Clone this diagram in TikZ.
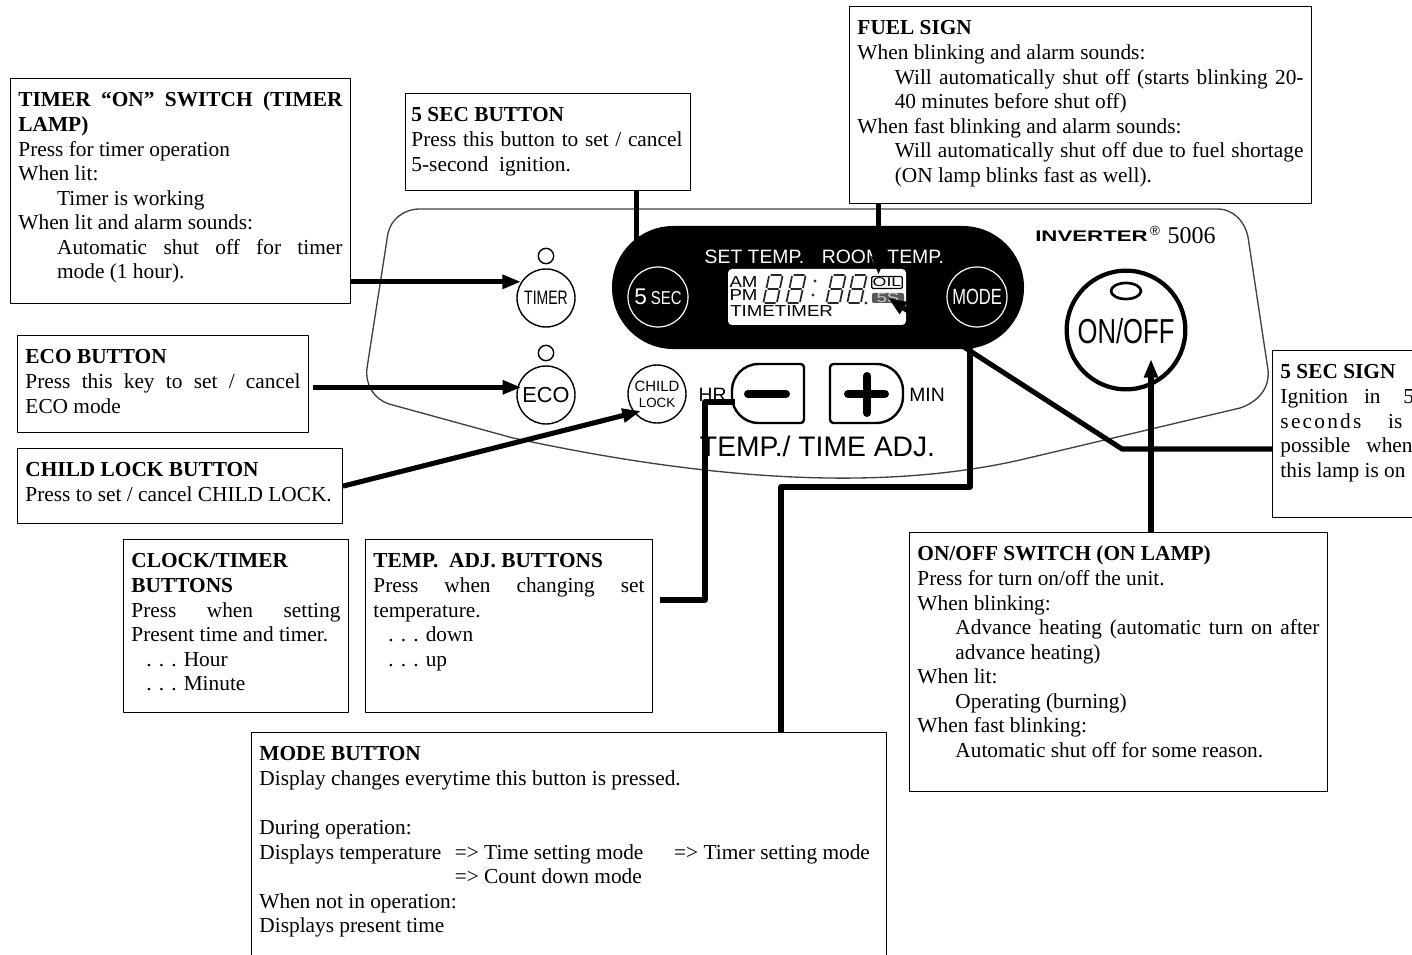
\documentclass[tikz,border=0pt]{standalone}
\usepackage{fontspec}
\usepackage{graphicx}
\setmainfont{Liberation Serif}
\setsansfont{Liberation Sans}
\usetikzlibrary{arrows.meta,calc}
\tolerance=10000
\hbadness=10000
\hfuzz=20pt
\hyphenpenalty=10000
\newcommand{\infohead}[1]{\vspace*{8.5pt}\noindent\strut\textbf{#1}\par}
\newcommand{\infohang}[1]{{\leftskip=29pt\relax #1\par}}
\newcommand{\infodots}[1]{{\leftskip=11.25pt\relax . . . #1\par}}
\begin{document}
\begin{tikzpicture}[x=0.75pt,y=-0.75pt, line join=round, line cap=butt,
	>={Stealth[inset=0pt,length=14pt,width=10pt]},
	infobox/.style={draw=black, line width=0.7pt, anchor=north west, inner xsep=6pt, inner ysep=0pt, font=\fontsize{16}{18.4}\selectfont},
	leader/.style={line width=3.8pt, draw=black},
	btn/.style={circle, draw=black, line width=1.05pt, minimum size=43.5pt, inner sep=0pt, font=\sffamily},
	lamp/.style={circle, draw=black, line width=1.05pt, minimum size=11.5pt, inner sep=0pt},
	darkbtn/.style={circle, draw=white, line width=0.9pt, minimum size=45pt, inner sep=0pt, text=white, font=\sffamily},
	panellabel/.style={inner sep=0pt, font=\sffamily\fontsize{14.5}{16}\selectfont},
	lcdlabel/.style={inner sep=0pt, font=\sffamily\fontsize{14}{14}\selectfont}]
	\clip (0,0) rectangle (1412,955);
	% panel outline
	\draw[line width=1pt, draw=black!75] (420,209)--(1217,209) .. controls (1234,209) and (1245,222) .. (1248,237)
		--(1268,370) .. controls (1270,388) and (1258,402) .. (1240,408)
		--(1020,460) .. controls (900,487) and (740,487) .. (513,438)
		--(389,404) .. controls (374,399) and (365,385) .. (367,368)
		--(388,233) .. controls (391,220) and (403,209) .. (420,209)--cycle;
	% display
	\fill[black,rounded corners=46pt] (612,226) rectangle (1024,349);
	\fill[white,rounded corners=3pt] (728,269) rectangle (906,325);
	\node[panellabel,text=white] (settemp) at (754.5,257) {SET TEMP.};
	\node[panellabel,text=white] (roomtemp) at (883,257) {ROOM TEMP.};
	\node[inner sep=0pt,align=left,font=\sffamily\fontsize{14}{9.8}\selectfont] (ampmsign) at (743.5,288.5) {\scalebox{1}[.85]{AM}\\\scalebox{1}[.85]{PM}};
	\node[lcdlabel,anchor=west] (timesign) at (730,311) {\scalebox{1}[.85]{TIMETIMER}};
	\foreach \x in{763,786,826,847}
	\draw[line width=1.3pt, black!85] (\x+1.5,303)--++(11,0) (\x+4.5,289)--++(11,0) (\x+7.5,275)--++(11,0)
		(\x+.5,302)--++(2.5,-12) (\x+3.5,288)--++(2.5,-12) (\x+14,302)--++(2.5,-12) (\x+17,288)--++(2.5,-12);
	\foreach \x/\y in{815/281,813/295,866/303}
	\fill[black!80] (\x,\y)circle(1.2pt);
	\node[lcdlabel,draw=black,fill=white,line width=0.9pt,rounded corners=1pt,minimum width=23pt,minimum height=9pt] (oilsign) at (887,282.5) {\scalebox{.95}[.68]{OIL}};
	\node[lcdlabel,fill=black!65,text=black!20,rounded corners=1pt,minimum width=24pt,minimum height=7.5pt] (secsign) at (888,298) {\scalebox{1}[.72]{5S}};
	\node[darkbtn] (secbtn) at (658,297) {\fontsize{17}{17}\selectfont 5\,\scalebox{.8}[1]{\fontsize{14}{14}\selectfont SEC}};
	\node[darkbtn] (modebtn) at (977,297) {\scalebox{.75}[1]{\fontsize{16.5}{17}\selectfont MODE}};
	% left buttons
	\node[btn] (timerbtn) at (546,298) {\scalebox{.72}[1]{\fontsize{14.6}{15}\selectfont TIMER}};
	\node[btn] (ecobtn) at (546,395) {\fontsize{16.3}{16}\selectfont ECO};
	\node[lamp] (timerlamp) at (546,256) {};
	\node[lamp] (ecolamp) at (546,353) {};
	\node[btn,align=center] (childbtn) at (657,394) {\fontsize{11.2}{12.5}\selectfont CHILD\\LOCK};
	% adjust buttons
	\draw[line width=1.8pt,rounded corners=2.5pt] (804,364)--(804,423)--(762,423) .. controls (743,423) and (732,410) .. (732,393.5) .. controls (732,377) and (743,364) .. (762,364)--cycle;
	\draw[line width=1.8pt,rounded corners=2.5pt] (830,364)--(830,423)--(873,423) .. controls (892,423) and (903,410) .. (903,393.5) .. controls (903,377) and (892,364) .. (873,364)--cycle;
	\draw[line width=6pt,line cap=round] (748,394)--(786,394);
	\draw[line width=6pt,line cap=round] (848,394)--(885,394) (867,376)--(867,413);
	\node[panellabel] (hrlabel) at (712.5,395) {HR};
	\node[panellabel] (minlabel) at (927,395) {MIN};
	\node[inner sep=0pt,font=\sffamily\fontsize{21.2}{22}\selectfont] (adjlabel) at (817.5,446) {TEMP./ TIME ADJ.};
	% on/off
	\node[circle,draw=black,line width=3.2pt,minimum size=89pt,inner sep=0pt] (onoffbtn) at (1126,330) {};
	\draw[line width=2pt] (1126,291) ellipse [x radius=15, y radius=8];
	\node[inner sep=0pt,font=\sffamily\fontsize{26}{26}\selectfont] (onofflabel) at (1126,331) {\scalebox{.74}[1]{ON/OFF}};
	\node[inner sep=0pt,font=\sffamily\bfseries\fontsize{11.5}{12}\selectfont] (brandlabel) at (1091.5,236) {\scalebox{1.45}[1]{INVERTER}};
	\node[inner sep=0pt,font=\sffamily\fontsize{10}{10}\selectfont] (reglabel) at (1155,231) {\textregistered};
	\node[inner sep=0pt,font=\fontsize{18}{18}\selectfont] (modellabel) at (1191.5,236) {5006};
	% boxes
	\node[infobox] (timerbox) at (10,78) {\parbox[t][169pt][t]{243pt}{\infohead{TIMER “ON” SWITCH (TIMER LAMP)}
		Press for timer operation\par When lit:\par\infohang{Timer is working}
		When lit and alarm sounds:\par\infohang{Automatic shut off for timer\linebreak mode (1 hour).}}};
	\node[infobox,inner xsep=0pt] (secbox) at (405,93) {\hspace*{4.5pt}\parbox[t][73pt][t]{203.25pt}{\infohead{5 SEC BUTTON}
		Press this button to set / cancel 5-second\ \ ignition.}\hspace*{6pt}};
	\node[infobox] (fuelbox) at (849,6) {\parbox[t][148pt][t]{334.5pt}{\infohead{FUEL SIGN}
		When blinking and alarm sounds:\par{\leftskip=28pt\relax Will automatically shut off (starts blinking 20-\linebreak 40 minutes before shut off)\par}
		When fast blinking and alarm sounds:\par{\leftskip=28pt\relax Will automatically shut off due to fuel shortage (ON lamp blinks fast as well).\par}}};
	\node[infobox] (ecobox) at (17,335) {\parbox[t][73pt][t]{206.25pt}{\infohead{ECO BUTTON}
		Press this key to set / cancel\linebreak ECO mode}};
	\node[infobox] (childbox) at (17,448) {\parbox[t][56.5pt][t]{231.75pt}{\infohead{CHILD LOCK BUTTON}
		Press to set / cancel CHILD LOCK.}};
	\node[infobox] (clockbox) at (123,539) {\parbox[t][130pt][t]{156.75pt}{\infohead{CLOCK/TIMER BUTTONS}
		Press when setting Present time and timer.\par\infodots{Hour}\infodots{Minute}}};
	\node[infobox] (tempbox) at (365,539) {\parbox[t][130pt][t]{203.25pt}{\infohead{TEMP.\ \ ADJ. BUTTONS}
		Press when changing set temperature.\par\infodots{down}\infodots{up}}};
	\node[infobox] (onoffbox) at (909,532) {\parbox[t][194.5pt][t]{301.5pt}{\infohead{ON/OFF SWITCH (ON LAMP)}
		Press for turn on/off the unit.\par When blinking:\par{\leftskip=28.5pt\relax Advance heating (automatic turn on after advance heating)\par}
		When lit:\par{\leftskip=28.5pt\relax Operating (burning)\par}
		When fast blinking:\par{\leftskip=28.5pt\relax Automatic shut off for some reason.\par}}};
	\node[infobox] (modebox) at (251,732) {\parbox[t][240pt][t]{464.25pt}{\infohead{MODE BUTTON}
		Display changes everytime this button is pressed.\par\strut\par
		During operation:\par
		\makebox[146.5pt][l]{Displays temperature}\makebox[164.5pt][l]{=> Time setting mode}=> Timer setting mode\par
		\hspace*{146.5pt}=> Count down mode\par
		When not in operation:\par Displays present time}};
	\node[infobox] (signbox) at (1272,350) {\parbox[t][125pt][t]{140pt}{\infohead{5 SEC SIGN}
		Ignition\hspace{12pt}in\hspace{17pt}5\par
		{\addfontfeature{LetterSpace=10.5}seconds}\hspace{20pt}is\par
		possible\hspace{12pt}when\par this lamp is on}};
	% leaders
	\path (313,388)coordinate(ecostart)(660,600)coordinate(tempstart)(705,600)coordinate(tempa)(705,402)coordinate(tempb)(735,402)coordinate(tempend)
		(1122,449)coordinate(signbend)(781,487)coordinate(modea)(970,487)coordinate(modeb)(970,326)coordinate(modetip)
		(1151,359)coordinate(onofftip)(878.5,275)coordinate(fueltip)(641,411)coordinate(childtip);
	\draw[leader,->] (timerbox.east |- timerbtn.147)--(timerbtn.147);
	\draw[leader,->,shorten >=-3pt] (ecostart |- ecobtn.165)--(ecobtn.165);
	\draw[leader,->] (childbox.east)--(childtip);
	\draw[leader,->] (secbox.south -| secbtn.135)--(secbtn.135);
	\draw[leader,->] (fuelbox.south -| fueltip)--(fueltip);
	\draw[leader,->] (signbox.west |- signbend)--(signbend)--(secsign.center);
	\draw[leader,->] (onoffbox.north -| onofftip)--(onofftip);
	\draw[leader,->] (modebox.north -| modea)--(modea)--(modeb)--(modetip);
	\draw[leader] (tempstart)--(tempa)--(tempb)--(tempend);
\end{tikzpicture}
\end{document}
